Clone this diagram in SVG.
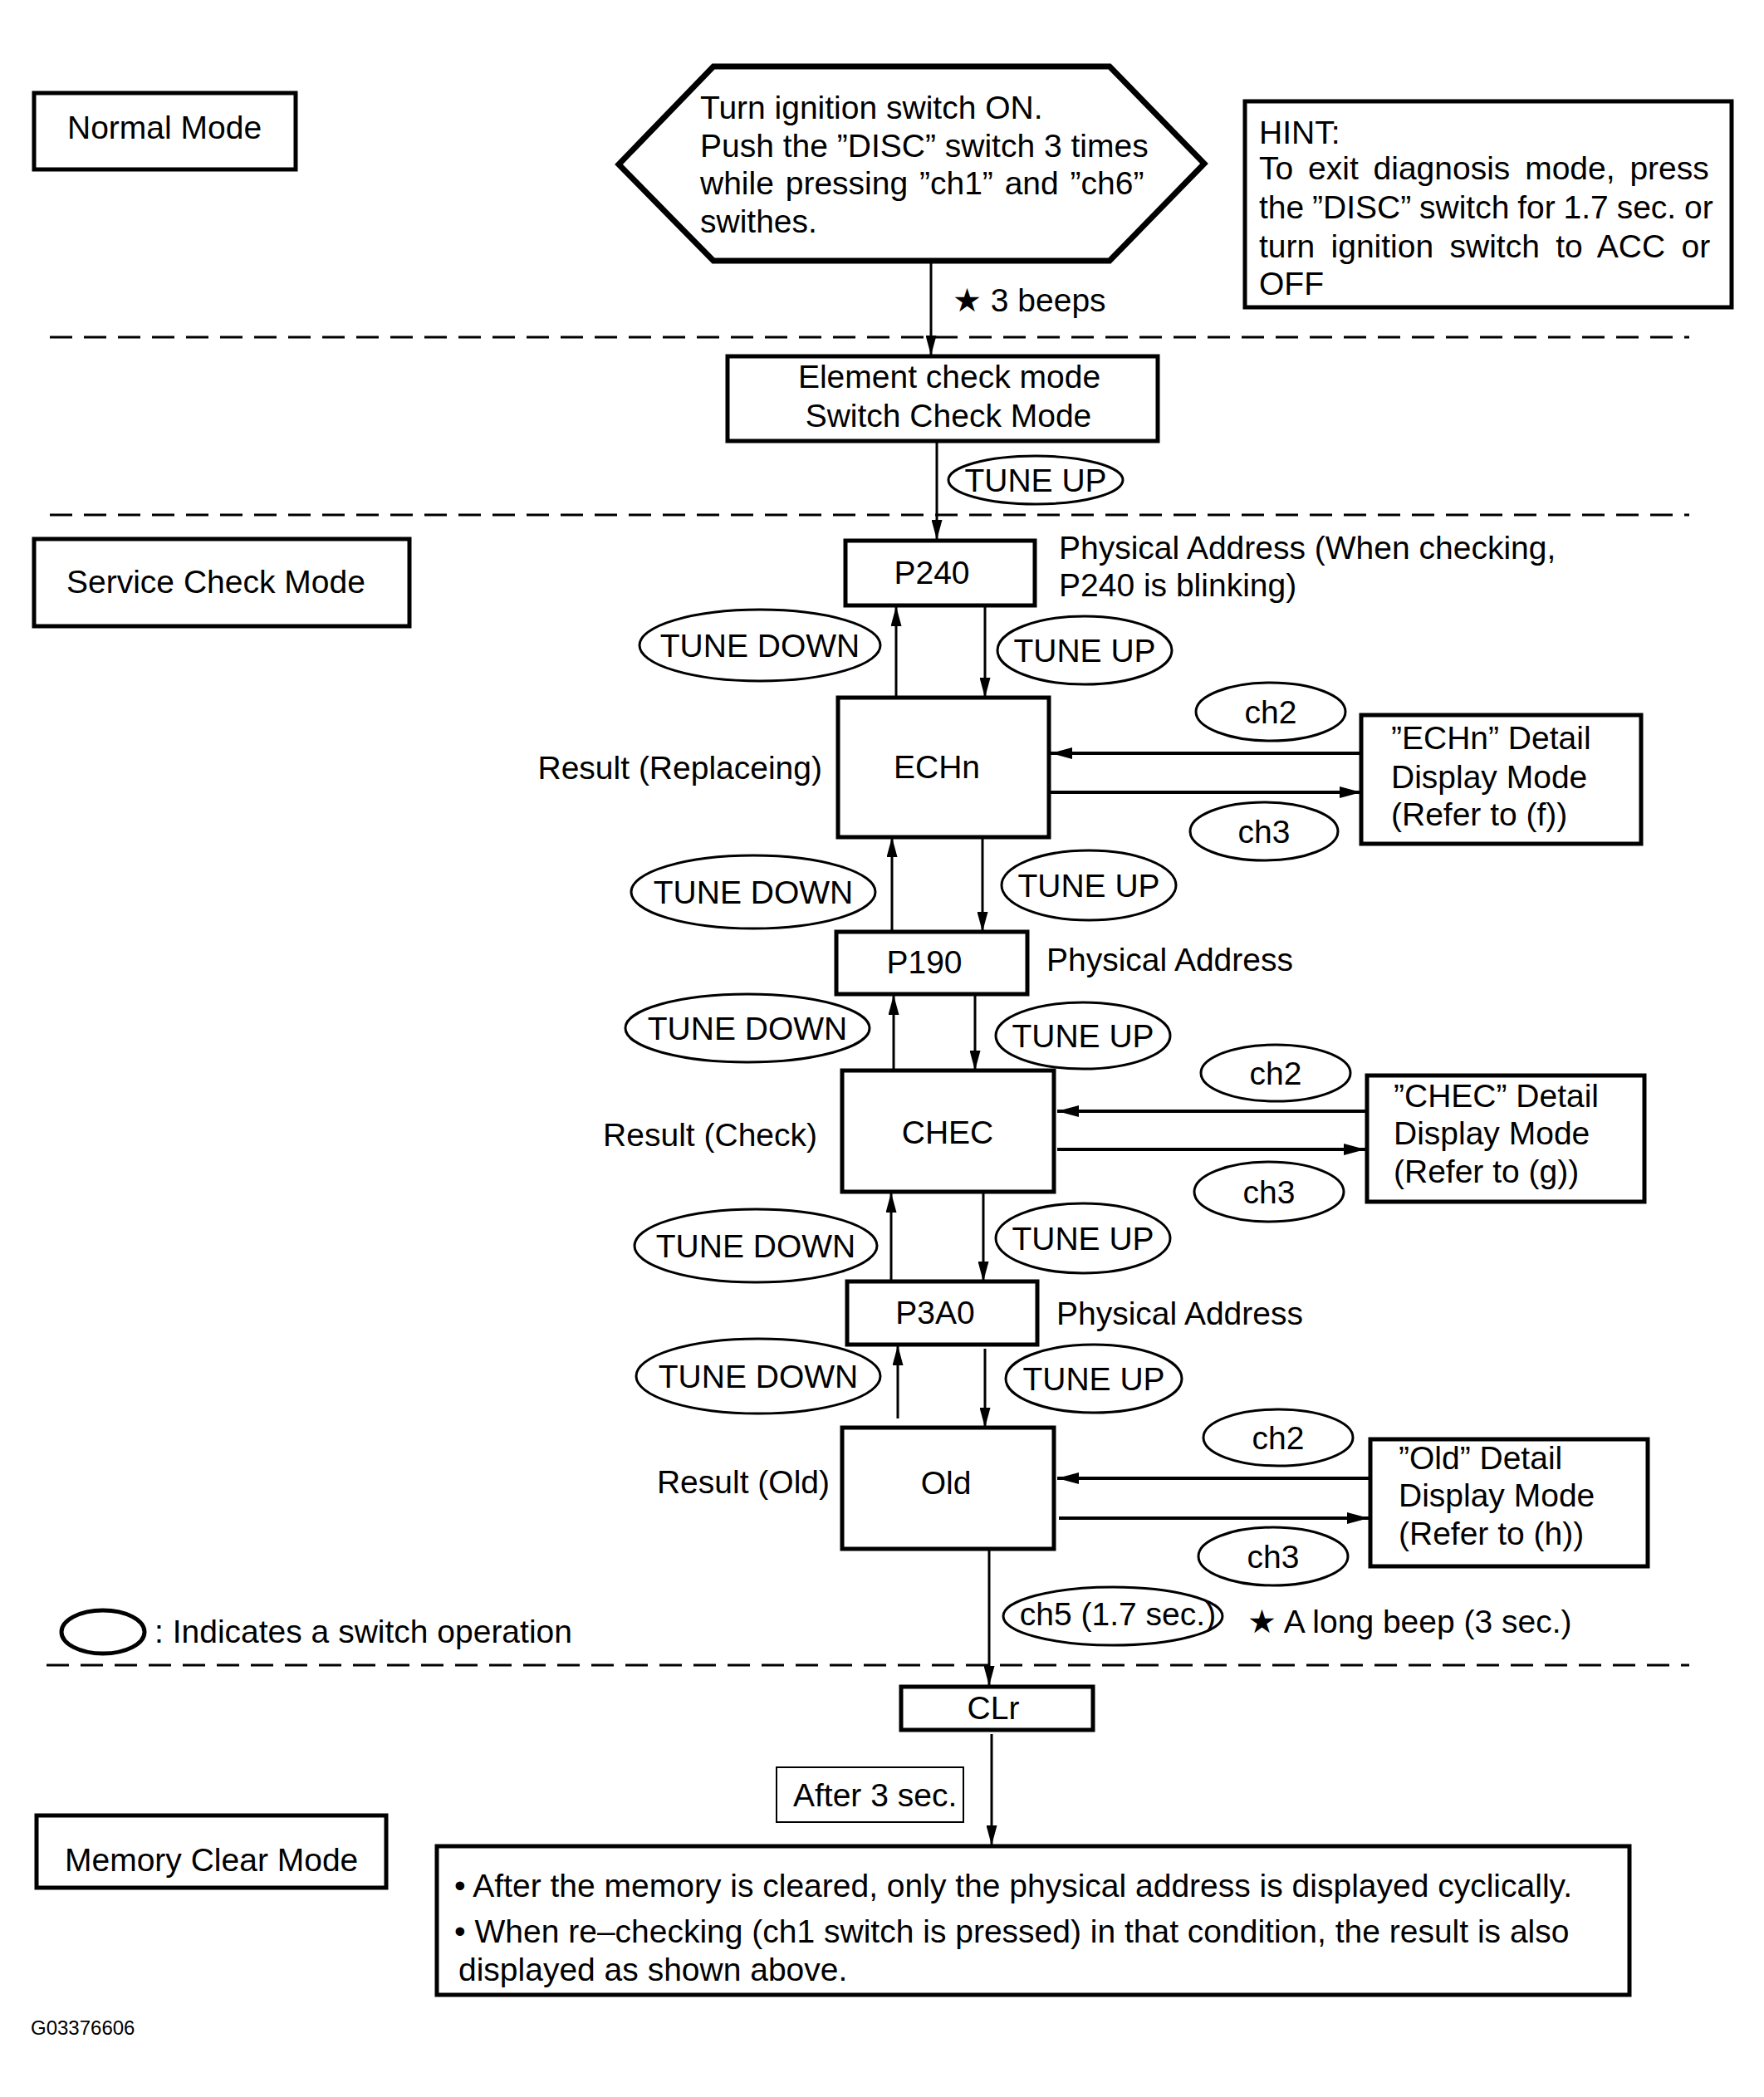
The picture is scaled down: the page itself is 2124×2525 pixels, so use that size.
<svg xmlns="http://www.w3.org/2000/svg" width="2124" height="2525" viewBox="0 0 2124 2525">
<style>
text{font-family:"Liberation Sans",Arial,"DejaVu Sans",sans-serif;font-size:39px;fill:#000}
.box{fill:#fff;stroke:#000;stroke-width:5}
.thin{fill:#fff;stroke:#000;stroke-width:2}
.ell{fill:#fff;stroke:#000;stroke-width:3}
.c{text-anchor:middle}
.e{text-anchor:end}
.v{stroke:#000;stroke-width:3;fill:none}
.h{stroke:#000;stroke-width:4;fill:none}
.dash{stroke:#000;stroke-width:3;stroke-dasharray:27 14;fill:none}
</style>
<defs>
<marker id="arr" viewBox="0 0 26 14" refX="26" refY="7" markerWidth="26" markerHeight="14" orient="auto" markerUnits="userSpaceOnUse">
<path d="M0,0 L26,7 L0,14 z" fill="#000"/>
</marker>
<marker id="arrs" viewBox="0 0 24 13" refX="24" refY="6.5" markerWidth="24" markerHeight="13" orient="auto" markerUnits="userSpaceOnUse">
<path d="M0,0 L24,6.5 L0,13 z" fill="#000"/>
</marker>
</defs>
<rect width="2124" height="2525" fill="#fff"/>

<g id="separators">
<line class="dash" x1="60" y1="406" x2="2034" y2="406"/>
<line class="dash" x1="60" y1="620" x2="2034" y2="620"/>
<line class="dash" x1="56" y1="2005" x2="2034" y2="2005"/>
</g>

<g id="connectors">
<line class="v" stroke-width="2" x1="1121" y1="314" x2="1121" y2="428" marker-end="url(#arrs)"/>
<line class="v" x1="1128" y1="531" x2="1128" y2="650" marker-end="url(#arrs)"/>
<line class="v" x1="1079" y1="840" x2="1079" y2="730" marker-end="url(#arrs)"/>
<line class="v" x1="1186" y1="730" x2="1186" y2="840" marker-end="url(#arrs)"/>
<line class="v" x1="1074" y1="1122" x2="1074" y2="1008" marker-end="url(#arrs)"/>
<line class="v" x1="1183" y1="1008" x2="1183" y2="1122" marker-end="url(#arrs)"/>
<line class="v" x1="1076" y1="1289" x2="1076" y2="1198" marker-end="url(#arrs)"/>
<line class="v" x1="1174" y1="1198" x2="1174" y2="1289" marker-end="url(#arrs)"/>
<line class="v" x1="1073" y1="1543" x2="1073" y2="1436" marker-end="url(#arrs)"/>
<line class="v" x1="1184" y1="1436" x2="1184" y2="1543" marker-end="url(#arrs)"/>
<line class="v" x1="1081" y1="1708" x2="1081" y2="1620" marker-end="url(#arrs)"/>
<line class="v" x1="1186" y1="1624" x2="1186" y2="1719" marker-end="url(#arrs)"/>
<line class="v" x1="1191" y1="1865" x2="1191" y2="2030" marker-end="url(#arrs)"/>
<line class="v" x1="1194" y1="2088" x2="1194" y2="2222" marker-end="url(#arrs)"/>
<line class="h" x1="1639" y1="907" x2="1265" y2="907" marker-end="url(#arr)"/>
<line class="h" x1="1265" y1="954" x2="1639" y2="954" marker-end="url(#arr)"/>
<line class="h" x1="1644" y1="1338" x2="1273" y2="1338" marker-end="url(#arr)"/>
<line class="h" x1="1273" y1="1384" x2="1644" y2="1384" marker-end="url(#arr)"/>
<line class="h" x1="1648" y1="1780" x2="1273" y2="1780" marker-end="url(#arr)"/>
<line class="h" x1="1275" y1="1828" x2="1648" y2="1828" marker-end="url(#arr)"/>
</g>

<g id="normal-mode">
<rect class="box" x="41" y="112" width="315" height="92"/>
<text x="81" y="167">Normal Mode</text>
</g>

<g id="start">
<polygon points="745,198 859,80 1336,80 1450,197 1336,314 859,314" fill="#fff" stroke="#000" stroke-width="7" stroke-linejoin="miter"/>
<text x="843" y="143">Turn ignition switch ON.</text>
<text x="843" y="189">Push the ”DISC” switch 3 times</text>
<text x="843" y="234" style="word-spacing:3px">while pressing ”ch1” and ”ch6”</text>
<text x="843" y="280">swithes.</text>
</g>

<g id="hint">
<rect class="box" x="1499" y="122" width="586" height="248" stroke-width="4"/>
<text x="1516" y="173">HINT:</text>
<text x="1516" y="216" style="word-spacing:7px">To exit diagnosis mode, press</text>
<text x="1516" y="263" style="word-spacing:-1px">the ”DISC” switch for 1.7 sec. or</text>
<text x="1516" y="310" style="word-spacing:8.5px">turn ignition switch to ACC or</text>
<text x="1516" y="355">OFF</text>
</g>

<g id="beeps3"><text x="1147" y="375">★ 3 beeps</text></g>

<g id="element-check">
<rect class="box" x="876" y="429" width="518" height="102" stroke-width="4"/>
<text class="c" x="1143" y="467">Element check mode</text>
<text class="c" x="1142" y="514">Switch Check Mode</text>
</g>

<g id="op-tuneup-1"><ellipse class="ell" cx="1247" cy="578" rx="105" ry="29"/><text class="c" x="1247" y="592">TUNE UP</text></g>

<g id="service-check-mode">
<rect class="box" x="41" y="649" width="452" height="105" stroke-width="7"/>
<text x="80" y="714">Service Check Mode</text>
</g>

<g id="p240">
<rect class="box" x="1018" y="651" width="228" height="78"/>
<text class="c" x="1122" y="703">P240</text>
</g>
<g id="p240-label">
<text x="1275" y="673">Physical Address (When checking,</text>
<text x="1275" y="718">P240 is blinking)</text>
</g>

<g id="op-tunedown-1"><ellipse class="ell" cx="915" cy="777" rx="145" ry="43"/><text class="c" x="915" y="791">TUNE DOWN</text></g>
<g id="op-tuneup-2"><ellipse class="ell" cx="1306" cy="783" rx="105" ry="41"/><text class="c" x="1306" y="797">TUNE UP</text></g>

<g id="echn">
<rect class="box" x="1009" y="840" width="254" height="168"/>
<text class="c" x="1128" y="937">ECHn</text>
</g>
<g id="echn-label"><text class="e" x="990" y="938">Result (Replaceing)</text></g>
<g id="op-ch2-1"><ellipse class="ell" cx="1530" cy="857" rx="90" ry="35"/><text class="c" x="1530" y="871">ch2</text></g>
<g id="op-ch3-1"><ellipse class="ell" cx="1522" cy="1001" rx="89" ry="35"/><text class="c" x="1522" y="1015">ch3</text></g>
<g id="echn-detail">
<rect class="box" x="1639" y="861" width="337" height="155"/>
<text x="1675" y="902">”ECHn” Detail</text>
<text x="1675" y="949">Display Mode</text>
<text x="1675" y="994">(Refer to (f))</text>
</g>

<g id="op-tunedown-2"><ellipse class="ell" cx="907" cy="1074" rx="147" ry="44"/><text class="c" x="907" y="1088">TUNE DOWN</text></g>
<g id="op-tuneup-3"><ellipse class="ell" cx="1311" cy="1066" rx="105" ry="42"/><text class="c" x="1311" y="1080">TUNE UP</text></g>

<g id="p190">
<rect class="box" x="1007" y="1122" width="230" height="75"/>
<text class="c" x="1113" y="1172">P190</text>
</g>
<g id="p190-label"><text x="1260" y="1169">Physical Address</text></g>

<g id="op-tunedown-3"><ellipse class="ell" cx="900" cy="1238" rx="147" ry="41"/><text class="c" x="900" y="1252">TUNE DOWN</text></g>
<g id="op-tuneup-4"><ellipse class="ell" cx="1304" cy="1247" rx="105" ry="40"/><text class="c" x="1304" y="1261">TUNE UP</text></g>

<g id="chec">
<rect class="box" x="1014" y="1289" width="255" height="146"/>
<text class="c" x="1141" y="1377">CHEC</text>
</g>
<g id="chec-label"><text class="e" x="984" y="1380">Result (Check)</text></g>
<g id="op-ch2-2"><ellipse class="ell" cx="1536" cy="1292" rx="90" ry="34"/><text class="c" x="1536" y="1306">ch2</text></g>
<g id="op-ch3-2"><ellipse class="ell" cx="1528" cy="1435" rx="90" ry="36"/><text class="c" x="1528" y="1449">ch3</text></g>
<g id="chec-detail">
<rect class="box" x="1646" y="1295" width="334" height="152"/>
<text x="1678" y="1333">”CHEC” Detail</text>
<text x="1678" y="1378">Display Mode</text>
<text x="1678" y="1424">(Refer to (g))</text>
</g>

<g id="op-tunedown-4"><ellipse class="ell" cx="910" cy="1500" rx="146" ry="44"/><text class="c" x="910" y="1514">TUNE DOWN</text></g>
<g id="op-tuneup-5"><ellipse class="ell" cx="1304" cy="1491" rx="105" ry="42"/><text class="c" x="1304" y="1505">TUNE UP</text></g>

<g id="p3a0">
<rect class="box" x="1020" y="1543" width="229" height="76"/>
<text class="c" x="1126" y="1594">P3A0</text>
</g>
<g id="p3a0-label"><text x="1272" y="1595">Physical Address</text></g>

<g id="op-tunedown-5"><ellipse class="ell" cx="913" cy="1657" rx="147" ry="45"/><text class="c" x="913" y="1671">TUNE DOWN</text></g>
<g id="op-tuneup-6"><ellipse class="ell" cx="1317" cy="1660" rx="106" ry="41"/><text class="c" x="1317" y="1674">TUNE UP</text></g>

<g id="old">
<rect class="box" x="1014" y="1719" width="255" height="146"/>
<text class="c" x="1139" y="1799">Old</text>
</g>
<g id="old-label"><text class="e" x="999" y="1798">Result (Old)</text></g>
<g id="op-ch2-3"><ellipse class="ell" cx="1539" cy="1731" rx="90" ry="34"/><text class="c" x="1539" y="1745">ch2</text></g>
<g id="op-ch3-3"><ellipse class="ell" cx="1533" cy="1874" rx="90" ry="35"/><text class="c" x="1533" y="1888">ch3</text></g>
<g id="old-detail">
<rect class="box" x="1650" y="1733" width="334" height="153"/>
<text x="1684" y="1769">”Old” Detail</text>
<text x="1684" y="1814">Display Mode</text>
<text x="1684" y="1860">(Refer to (h))</text>
</g>

<g id="op-ch5"><ellipse class="ell" cx="1340" cy="1946" rx="132" ry="35"/><text class="c" x="1346" y="1957">ch5 (1.7 sec.)</text></g>
<g id="long-beep"><text x="1502" y="1966">★ A long beep (3 sec.)</text></g>

<g id="legend">
<ellipse cx="124" cy="1965" rx="50" ry="26" fill="none" stroke="#000" stroke-width="5"/>
<text x="186" y="1978">: Indicates a switch operation</text>
</g>

<g id="clr">
<rect class="box" x="1085" y="2031" width="231" height="52"/>
<text class="c" x="1196" y="2070">CLr</text>
</g>

<g id="after3">
<rect class="thin" x="935" y="2128" width="225" height="66"/>
<text x="955" y="2175">After 3 sec.</text>
</g>

<g id="memory-clear-mode">
<rect class="box" x="44" y="2186" width="421" height="87"/>
<text x="78" y="2253">Memory Clear Mode</text>
</g>

<g id="memory-note">
<rect class="box" x="526" y="2223" width="1436" height="179"/>
<text x="547" y="2284">• After the memory is cleared, only the physical address is displayed cyclically.</text>
<text x="547" y="2339">• When re–checking (ch1 switch is pressed) in that condition, the result is also</text>
<text x="552" y="2385">displayed as shown above.</text>
</g>

<g id="figure-id"><text x="37" y="2450" style="font-size:24px">G03376606</text></g>
</svg>
